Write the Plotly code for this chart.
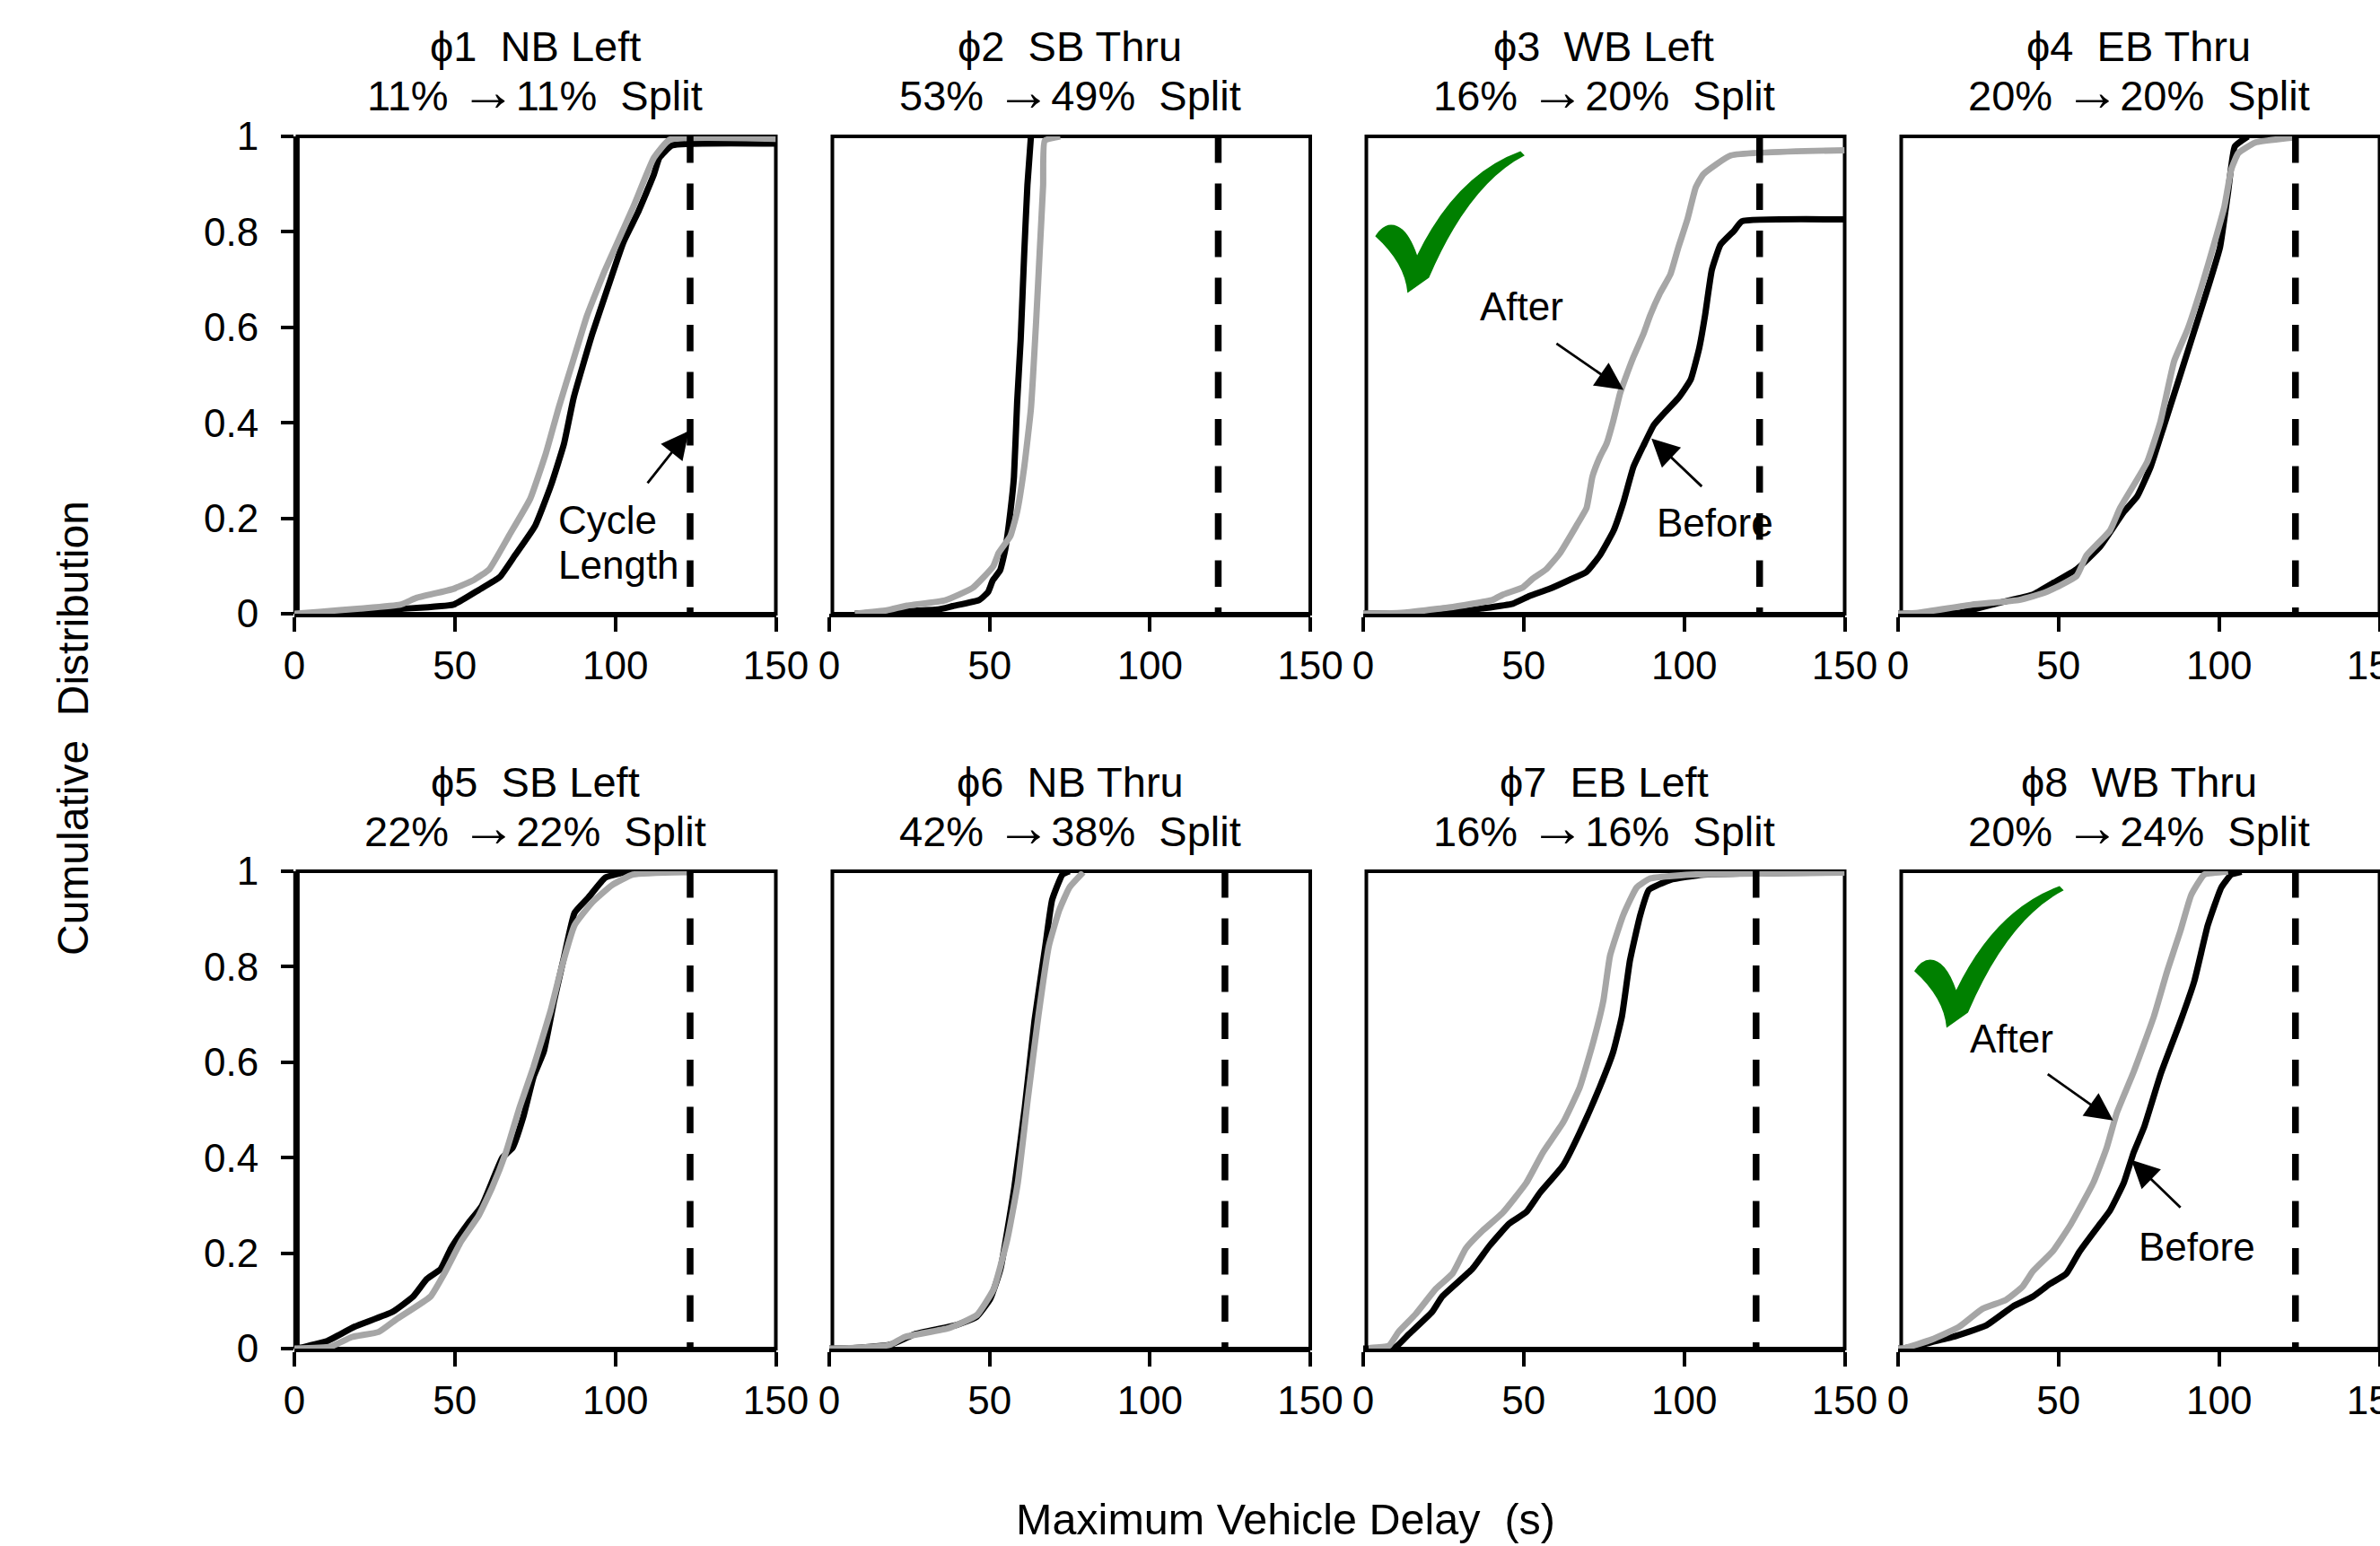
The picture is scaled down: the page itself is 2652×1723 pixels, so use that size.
import plotly.graph_objects as go

ARROW = '<span style="font-size:62px">→</span>'
TITLE_TOP = ["ϕ1  NB Left", "ϕ2  SB Thru", "ϕ3  WB Left", "ϕ4  EB Thru",
             "ϕ5  SB Left", "ϕ6  NB Thru", "ϕ7  EB Left", "ϕ8  WB Thru"]
SPLIT_BEFORE = ["11%", "53%", "16%", "20%", "22%", "42%", "16%", "20%"]
SPLIT_AFTER = ["11%", "49%", "20%", "20%", "22%", "38%", "16%", "24%"]
CYCLE_LENGTH = [123.3, 121.3, 123.5, 123.8, 123.3, 123.4, 122.4, 123.8]
X_TICKS = [0, 50, 100, 150]
Y_TICKS = [0, 0.2, 0.4, 0.6, 0.8, 1]
Y_TICK_TEXT = ["0", "0.2", "0.4", "0.6", "0.8", "1"]

P1_BEFORE_X = [0, 20.5, 33, 49.5, 57.5, 64, 68.7, 75, 80, 84, 87, 92.8, 97.6, 102.5, 107, 112, 113.7, 117.7, 150]
P1_BEFORE_Y = [0, .002, .01, .019, .05, .077, .122, .184, .27, .356, .452, .586, .682, .778, .84, .92, .955, .981, .985]
P1_AFTER_X = [0, 7.7, 20.5, 33, 38, 49.5, 56, 60.7, 67, 73.5, 78.4, 82.4, 86.8, 91.2, 96.8, 100, 105.7, 112, 116.9, 150]
P1_AFTER_Y = [0, .004, .011, .019, .033, .052, .071, .093, .165, .241, .337, .433, .529, .625, .72, .768, .854, .955, .993, .995]

P2_BEFORE_X = [8, 23, 34, 38.5, 46.8, 49.5, 51, 53.3, 54.9, 56.5, 57.6, 58.6, 59.7, 60.8, 61.8, 62.9]
P2_BEFORE_Y = [0, .005, .009, .016, .029, .045, .07, .091, .135, .214, .286, .444, .574, .754, .898, 1]
P2_AFTER_X = [8, 17.9, 24.3, 36.1, 44.7, 51.1, 52.8, 56.5, 58.6, 60.8, 62.9, 64.5, 65.6, 66.7, 67.2, 72]
P2_AFTER_Y = [0, .007, .017, .028, .054, .099, .127, .163, .214, .307, .43, .61, .754, .898, .991, 1]

P3_BEFORE_X = [0, 26.7, 37, 46.6, 51.8, 58, 64.3, 69.6, 73.7, 78, 81, 84.2, 87.3, 90.5, 93.6, 98.2, 102, 104.7, 106.5, 108.6, 111.3, 115.5, 118, 150]
P3_BEFORE_Y = [0, .002, .011, .021, .037, .052, .071, .088, .122, .174, .232, .308, .352, .395, .419, .452, .49, .557, .625, .72, .773, .802, .822, .826]
P3_AFTER_X = [0, 12, 26.7, 40.3, 43.5, 49.7, 52.9, 57, 61.2, 66.4, 69.6, 71.4, 73.7, 75.8, 77.9, 80, 81.5, 84.2, 87.3, 89.4, 92.5, 95.7, 98.2, 101, 103.6, 106, 114.5, 150]
P3_AFTER_Y = [0, .002, .013, .029, .04, .055, .074, .093, .126, .184, .222, .287, .328, .356, .404, .461, .49, .538, .586, .625, .672, .711, .768, .826, .893, .921, .96, .971]

P4_BEFORE_X = [0, 18.9, 31.5, 42, 48.2, 55.6, 63, 70.3, 74.5, 78.7, 82.9, 87, 91.3, 96.5, 100.3, 102.8, 104.9, 109]
P4_BEFORE_Y = [0, .002, .023, .04, .064, .093, .141, .213, .246, .308, .395, .481, .572, .682, .768, .883, .979, 1]
P4_AFTER_X = [0, 6.3, 23, 37.8, 46, 55.6, 58.7, 66, 69.2, 77.6, 81.8, 86, 90.2, 94.4, 98.6, 101.7, 103.8, 106, 111.2, 123.8]
P4_AFTER_Y = [0, .002, .019, .029, .045, .079, .122, .174, .222, .318, .404, .529, .596, .682, .778, .854, .931, .965, .987, .998]

P5_BEFORE_X = [0, 2.8, 10.3, 18.8, 30.6, 37, 41.3, 45.6, 48.8, 54.1, 58.4, 64.8, 68, 71.3, 74.5, 77.7, 80.9, 84.1, 87.3, 91.6, 96.9, 103.4, 120.5]
P5_BEFORE_Y = [0, .003, .016, .046, .077, .109, .146, .167, .21, .262, .299, .4, .421, .485, .569, .622, .728, .823, .913, .945, .987, .998, 1]
P5_AFTER_X = [0, 11.3, 17.8, 26.3, 31.7, 42.4, 46.7, 52, 57.4, 61.6, 65.9, 70.2, 74.5, 79.8, 83, 87.3, 92.7, 99, 105.5, 122.6]
P5_AFTER_Y = [0, .004, .024, .035, .061, .109, .157, .225, .278, .337, .411, .506, .59, .707, .792, .887, .934, .971, .993, .998]

P6_BEFORE_X = [0, 7.3, 19, 26.6, 39.5, 46, 50.2, 53.4, 57.7, 61, 64, 67.4, 69.5, 72.7, 74.9]
P6_BEFORE_Y = [0, .001, .008, .03, .049, .067, .104, .167, .337, .506, .686, .844, .94, .993, 1]
P6_AFTER_X = [0, 9.4, 19, 23.4, 37.3, 46, 51.3, 55.6, 58.8, 62, 65.2, 68.5, 71.7, 74.9, 79.2]
P6_AFTER_Y = [0, .002, .008, .024, .043, .07, .125, .231, .347, .527, .696, .844, .918, .966, .998]

P7_BEFORE_X = [0, 10, 14.2, 21.5, 24.6, 34, 39.3, 45.5, 50.8, 55, 62.3, 67.5, 73.7, 77.9, 80.6, 83.1, 86.3, 89, 95.7, 106, 150]
P7_BEFORE_Y = [0, .003, .03, .077, .109, .167, .215, .262, .286, .326, .384, .453, .548, .622, .696, .813, .908, .961, .982, .993, .998]
P7_AFTER_X = [1.7, 8, 11, 16.3, 22.6, 27.8, 32, 37.2, 43.4, 50.8, 56, 62.3, 67.5, 71.7, 74.8, 76.9, 81, 85.2, 89.4, 102, 150]
P7_AFTER_Y = [.001, .006, .035, .072, .125, .157, .21, .247, .284, .347, .411, .474, .548, .643, .728, .823, .908, .966, .985, .993, .997]

P8_BEFORE_X = [0, 3, 16.8, 27.3, 35.7, 42, 47.2, 52.4, 56.6, 63, 66, 70.3, 73.4, 76.6, 81.8, 88, 92.3, 96.5, 100.7, 103.8, 107]
P8_BEFORE_Y = [0, .002, .024, .048, .088, .109, .135, .157, .204, .262, .289, .347, .411, .463, .575, .686, .77, .887, .966, .993, .999]
P8_AFTER_X = [0, 2, 10.5, 18.9, 26.2, 33.6, 38.8, 42, 48.2, 53.5, 60.8, 65, 68.2, 73.4, 79.7, 83.9, 88, 91.3, 95.4, 102.8]
P8_AFTER_Y = [0, .001, .019, .045, .083, .102, .13, .162, .204, .257, .347, .421, .495, .58, .696, .792, .876, .95, .993, .999]

BEFORE = [(P1_BEFORE_X, P1_BEFORE_Y), (P2_BEFORE_X, P2_BEFORE_Y), (P3_BEFORE_X, P3_BEFORE_Y), (P4_BEFORE_X, P4_BEFORE_Y),
          (P5_BEFORE_X, P5_BEFORE_Y), (P6_BEFORE_X, P6_BEFORE_Y), (P7_BEFORE_X, P7_BEFORE_Y), (P8_BEFORE_X, P8_BEFORE_Y)]
AFTER = [(P1_AFTER_X, P1_AFTER_Y), (P2_AFTER_X, P2_AFTER_Y), (P3_AFTER_X, P3_AFTER_Y), (P4_AFTER_X, P4_AFTER_Y),
         (P5_AFTER_X, P5_AFTER_Y), (P6_AFTER_X, P6_AFTER_Y), (P7_AFTER_X, P7_AFTER_Y), (P8_AFTER_X, P8_AFTER_Y)]

W, H = 2652, 1723
FONT = "Liberation Sans"
FS = 44
FS_TITLE = 47
FS_AXIS = 48.5
GRAY = "#A6A6A6"
COL_PX = [(328, 864.5), (924, 1460), (1519, 2055.5), (2115, 2651.5)]
ROW_PX = [(152, 684), (971, 1503)]

fig = go.Figure()
layout = dict(width=W, height=H, autosize=False, margin=dict(l=0, r=0, t=0, b=0, autoexpand=False),
              paper_bgcolor="white", plot_bgcolor="rgba(0,0,0,0)", showlegend=False,
              font=dict(family=FONT, size=FS, color="black"))
annotations = []
shapes = []


def check_path(dx):
    def p(x, y):
        return f"{x + dx:.2f},{y:.3f}"
    return ("M" + p(3.73, .791) + " Q" + p(6, .815) + " " + p(8.68, .8146) + " Q" + p(13.5, .815) + " " + p(16.8, .751)
            + " Q" + p(29, .92) + " " + p(49, .969) + " L" + p(50.3, .96) + " Q" + p(33, .9) + " " + p(20.5, .704)
            + " L" + p(13.8, .672) + " Q" + p(13, .735) + " " + p(3.73, .791) + " Z")


for i in range(8):
    n = i + 1
    row, col = i // 4, i % 4
    xn = "" if n == 1 else str(n)
    xref, yref = f"x{xn}", f"y{xn}"
    px0, px1 = COL_PX[col]
    top, bottom = ROW_PX[row]
    layout[f"xaxis{xn}"] = dict(domain=[px0 / W, px1 / W], range=[0, 150], anchor=yref, tickmode="array",
                                tickvals=X_TICKS, ticks="outside", ticklen=16, tickwidth=3.5, tickcolor="black",
                                showline=True, linewidth=4, linecolor="black", showgrid=False, zeroline=False,
                                ticklabeloverflow="allow", tickfont=dict(family=FONT, size=FS, color="black"))
    left = col == 0
    layout[f"yaxis{xn}"] = dict(domain=[(H - bottom) / H, (H - top) / H], range=[0, 1], anchor=xref, tickmode="array",
                                tickvals=Y_TICKS, ticktext=Y_TICK_TEXT, ticks="outside" if left else "", ticklen=14,
                                tickwidth=3.5, tickcolor="black", showticklabels=left, showline=False, showgrid=False,
                                zeroline=False, ticklabelstandoff=16, tickfont=dict(family=FONT, size=FS, color="black"))
    # frame in page units so that its stroke is not clipped at the subplot edge
    shapes.append(dict(type="rect", xref="paper", yref="paper", x0=(px0 + 3.5) / W, x1=px1 / W,
                       y0=(H - bottom) / H, y1=(H - top) / H, layer="below",
                       line=dict(color="black", width=4), fillcolor="rgba(0,0,0,0)"))
    if left:
        shapes.append(dict(type="line", xref="paper", yref="paper", x0=(px0 + 2.3) / W, x1=(px0 + 2.3) / W,
                           y0=(H - bottom) / H, y1=(H - top) / H, layer="below",
                           line=dict(color="black", width=7)))
    bx, by = BEFORE[i]
    ax, ay = AFTER[i]
    fig.add_trace(go.Scatter(x=bx, y=by, mode="lines", name="Before", xaxis=xref, yaxis=yref, cliponaxis=False,
                             line=dict(color="black", width=7, shape="spline", smoothing=0.4)))
    fig.add_trace(go.Scatter(x=ax, y=ay, mode="lines", name="After", xaxis=xref, yaxis=yref, cliponaxis=False,
                             line=dict(color=GRAY, width=7, shape="spline", smoothing=0.4)))
    fig.add_trace(go.Scatter(x=[CYCLE_LENGTH[i], CYCLE_LENGTH[i]], y=[1, -0.013], mode="lines", name="Cycle Length",
                             xaxis=xref, yaxis=yref, cliponaxis=False,
                             line=dict(color="black", width=7.5, dash="29.5px,23px")))
    annotations.append(dict(text=TITLE_TOP[i], x=75, xref=xref, y=(H - (top - 100)) / H, yref="paper",
                            xanchor="center", yanchor="middle", showarrow=False,
                            font=dict(family=FONT, size=FS_TITLE, color="black")))
    annotations.append(dict(text=f"{SPLIT_BEFORE[i]} {ARROW}{SPLIT_AFTER[i]}  Split", x=75, xref=xref,
                            y=(H - (top - 50)) / H, yref="paper", xanchor="center", yanchor="middle", showarrow=False,
                            font=dict(family=FONT, size=FS_TITLE, color="black")))


def label(text, x, y, n, xanchor="center"):
    xn = "" if n == 1 else str(n)
    annotations.append(dict(text=text, x=x, y=y, xref=f"x{xn}", yref=f"y{xn}", showarrow=False, xanchor=xanchor,
                            yanchor="middle", font=dict(family=FONT, size=FS, color="black")))


def arrow(x0, y0, x1, y1, n):
    xn = "" if n == 1 else str(n)
    annotations.append(dict(text="", x=x1, y=y1, ax=x0, ay=y0, xref=f"x{xn}", yref=f"y{xn}", axref=f"x{xn}",
                            ayref=f"y{xn}", showarrow=True, arrowhead=2, arrowsize=2.2, arrowwidth=2.8,
                            arrowcolor="black", standoff=0, startstandoff=0))


label("Cycle", 81.5, .197, 1, "left")
label("Length", 81.5, .102, 1, "left")
arrow(109.7, .271, 122.9, .383, 1)

label("After", 49.3, .643, 3)
label("Before", 109.7, .19, 3)
arrow(59.8, .568, 81.1, .469, 3)
arrow(105.9, .264, 89.8, .367, 3)

label("After", 35.5, .65, 8)
label("Before", 93.2, .214, 8)
arrow(46.2, .577, 67, .478, 8)
arrow(88.4, .293, 72.7, .395, 8)

shapes.append(dict(type="path", xref="x3", yref="y3", path=check_path(0), fillcolor="#008000",
                   line=dict(width=0), layer="above"))
shapes.append(dict(type="path", xref="x8", yref="y8", path=check_path(1.3), fillcolor="#008000",
                   line=dict(width=0), layer="above"))

annotations.append(dict(text="Maximum Vehicle Delay  (s)", x=1432 / W, y=(H - 1693) / H, xref="paper", yref="paper",
                        showarrow=False, xanchor="center", yanchor="middle", font=dict(family=FONT, size=FS_AXIS, color="black")))
annotations.append(dict(text="Cumulative  Distribution", x=81 / W, y=(H - 812) / H, xref="paper", yref="paper",
                        showarrow=False, textangle=-90, xanchor="center", yanchor="middle",
                        font=dict(family=FONT, size=48, color="black")))

layout["annotations"] = annotations
layout["shapes"] = shapes
fig.update_layout(**layout)
fig.write_html("out.html", config=dict(displayModeBar=False),
               post_script="document.body.style.margin='0';document.documentElement.style.overflow='hidden';")
